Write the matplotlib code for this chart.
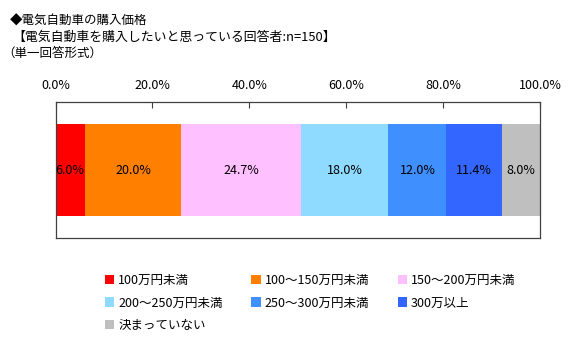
import matplotlib
matplotlib.use("Agg")
import matplotlib.pyplot as plt
from matplotlib.patches import Patch

plt.rcParams['font.family'] = ['Noto Sans CJK JP', 'DejaVu Sans']

categories = ["100万円未満", "100～150万円未満", "150～200万円未満",
              "200～250万円未満", "250～300万円未満", "300万以上", "決まっていない"]
values = [6.0, 20.0, 24.7, 18.0, 12.0, 11.4, 8.0]
colors = ["#FF0000", "#FF8000", "#FFC0FF", "#8FDBFF", "#3F8FFF", "#3366FF", "#BFBFBF"]
xticks = [0, 20, 40, 60, 80, 100]
xtick_labels = ["0.0%", "20.0%", "40.0%", "60.0%", "80.0%", "100.0%"]

fig = plt.figure(figsize=(5.85, 3.46), dpi=100)
W, H = 585, 346
ax = fig.add_axes([55.5 / W, 1 - 238 / H, (540 - 55.5) / W, (238 - 102) / H])

left = 0
for v, c in zip(values, colors):
    ax.barh(0, v, left=left, height=0.67, color=c, edgecolor='none')
    ax.text(left + v / 2, 0, f"{v:.1f}%", ha='center', va='center', fontsize=9, color='black')
    left += v

ax.set_xlim(0, 100)
ax.set_ylim(-0.5, 0.5)
ax.set_yticks([])
ax.xaxis.tick_top()
ax.set_xticks(xticks)
ax.set_xticklabels(xtick_labels, fontsize=9)
ax.tick_params(axis='x', direction='in', length=4, pad=7, color='#404040')
for s in ax.spines.values():
    s.set_color('#404040')
    s.set_linewidth(0.9)

fig.text(10 / W, 1 - 21 / H, "◆電気自動車の購入価格", fontsize=9, va='center', ha='left')
fig.text(12 / W, 1 - 37 / H, "【電気自動車を購入したいと思っている回答者:n=150】", fontsize=9.3, va='center', ha='left')
fig.text(2 / W, 1 - 53 / H, "（単一回答形式）", fontsize=9, va='center', ha='left')

handles = [Patch(facecolor=c, edgecolor='none') for c in colors]
# matplotlib fills legend column-wise, so reorder to read row-wise
order_cols = [[0, 3, 6], [1, 4], [2, 5]]
flat = [i for col in order_cols for i in col]
leg = fig.legend([handles[i] for i in flat], [categories[i] for i in flat], loc='upper left',
                 bbox_to_anchor=(105 / W, 1 - 274 / H), ncol=3, frameon=False, fontsize=9,
                 handlelength=0.75, handleheight=0.75, handletextpad=0.3, columnspacing=2.3,
                 labelspacing=0.75, borderaxespad=0, borderpad=0)

fig.savefig("out.png", dpi=100)
